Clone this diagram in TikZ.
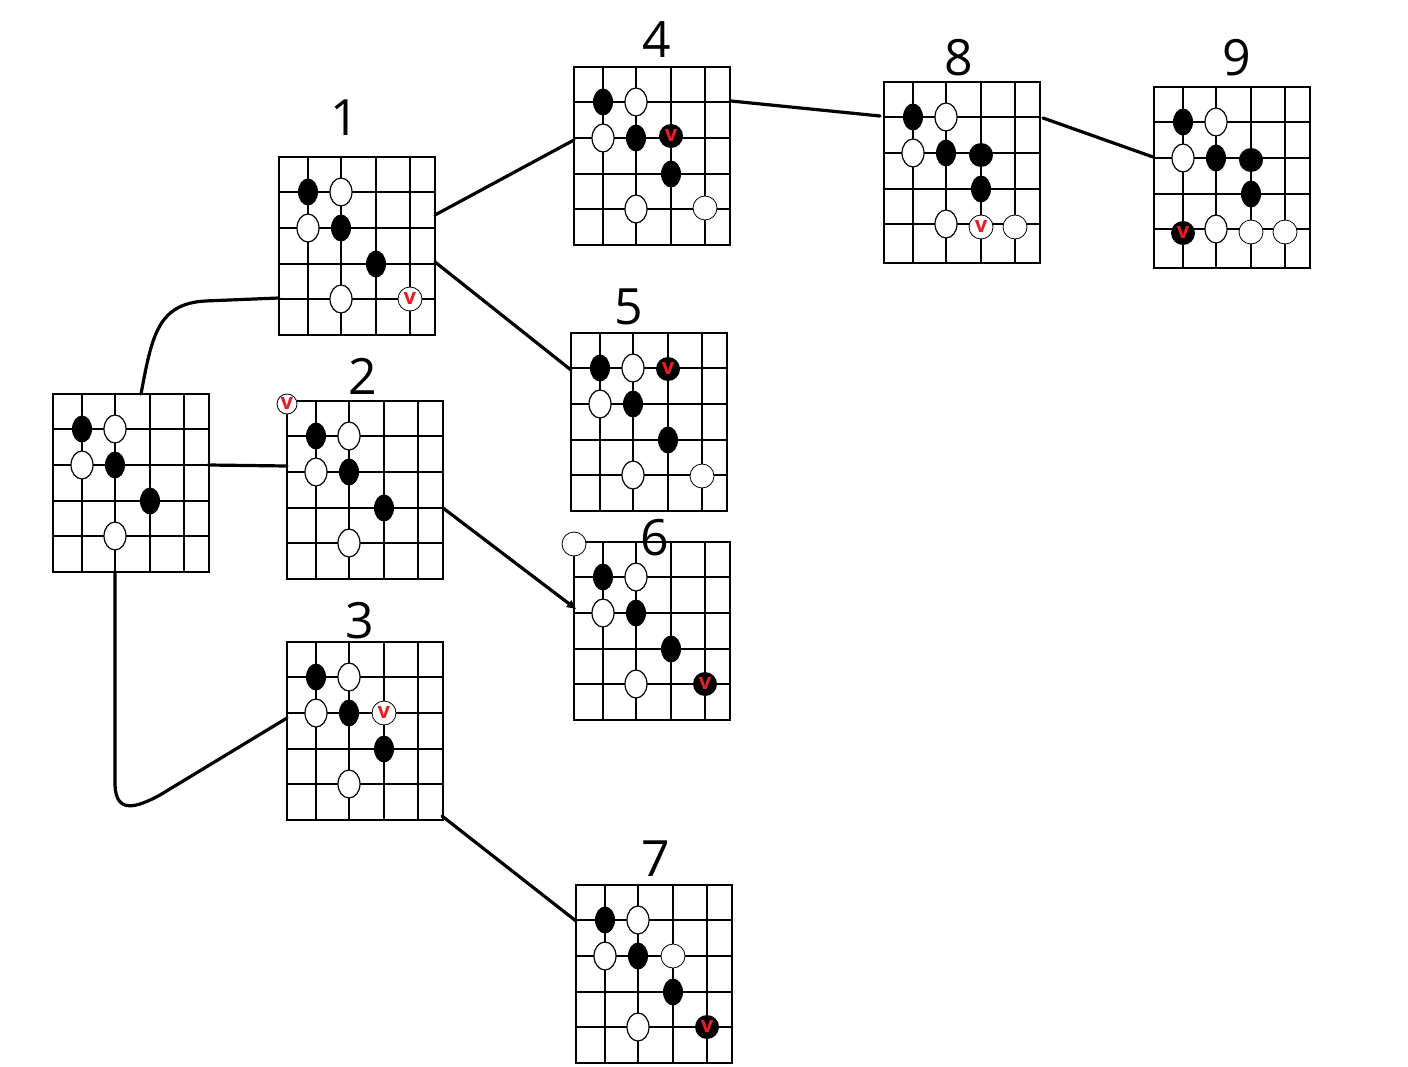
\documentclass[tikz,border=0pt]{standalone}
\usepackage{fontspec}
\setmainfont{Open Sans}
\usetikzlibrary{calc,arrows.meta}
\definecolor{vred}{RGB}{230,30,40}
\tikzset{
  board/.style={draw=black, line width=1.6pt, minimum width=156pt, minimum height=178pt, inner sep=0pt, outer sep=0pt, anchor=north west},
  gl/.style={line width=1.6pt},
  conn/.style={line width=3.2pt, line cap=round},
  lbl/.style={font=\fontsize{50}{60}\selectfont, inner sep=0pt},
  vm/.style={text=vred, font=\bfseries\fontsize{22}{22}\selectfont, inner sep=0pt, yshift=1pt}
}
\newcommand\grid[1]{%
  \foreach \c in {29,62,97,131} \draw[gl] ($(#1.north west)+(\c,0)$) -- ($(#1.south west)+(\c,0)$);
  \foreach \r in {35,107,142} \draw[gl] ($(#1.north west)+(0,\r)$) -- ($(#1.north east)+(0,\r)$);
  \draw[line width=2.8pt] ($(#1.north west)+(0,71)$) -- ($(#1.north east)+(0,71)$);}
\newcommand\Bk[3]{\fill ($(#1.north west)+(#2,#3)$) ellipse [x radius=10pt, y radius=13.5pt];}
\newcommand\Wt[3]{\filldraw[fill=white, line width=1.2pt] ($(#1.north west)+(#2,#3)$) ellipse [x radius=11pt, y radius=14pt];}
\newcommand\Wc[3]{\filldraw[fill=white, line width=0.8pt] ($(#1.north west)+(#2,#3)$) circle [radius=12pt];}
\newcommand\Bc[3]{\fill ($(#1.north west)+(#2,#3)$) circle [radius=12pt];}
\newcommand\Vm[3]{\node[vm] at ($(#1.north west)+(#2,#3)$) {v};}
\newcommand\basepos[1]{\grid{#1}\Bk{#1}{29}{35}\Wt{#1}{62}{35}\Wt{#1}{29}{71}\Bk{#1}{62}{71}\Bk{#1}{97}{107}\Wt{#1}{62}{142}}
\begin{document}
\begin{tikzpicture}[x=1pt,y=-1pt]
\useasboundingbox (0,0) rectangle (1408,1067);
\fill[white] (0,0) rectangle (1408,1067);
% boards
\node[board] (r)  at (53,394) {};
\node[board] (b1) at (279,157) {};
\node[board] (b2) at (287,401) {};
\node[board] (b3) at (287,642) {};
\node[board] (b4) at (574,67) {};
\node[board] (b5) at (571,333) {};
\node[board] (b6) at (574,542) {};
\node[board] (b7) at (576,885) {};
\node[board,minimum height=181pt] (b8) at (884,82) {};
\node[board,minimum height=181pt] (b9) at (1154,87) {};
% connectors
\draw[conn] ($(r.north west)+(88,0)$) .. controls (152,335) and (158,304) .. (205,301) -- ($(b1.north west)+(0,141)$);
\draw[conn] ($(r.north west)+(155,71)$) -- ($(b2.north west)+(0,65)$);
\draw[conn] ($(r.south west)+(62,0)$) -- (115,785) .. controls (116,814) and (136,808) .. (160,795) -- ($(b3.north west)+(0,76)$);
\draw[conn] ($(b1.north west)+(156,58)$) -- ($(b4.north west)+(0,73)$);
\draw[conn] ($(b1.north west)+(156,105)$) -- ($(b5.north west)+(0,37)$);
\draw[conn,-{Triangle[length=9pt,width=8pt]}] ($(b2.north west)+(156,107)$) -- ($(b6.north west)+(2,67)$);
\draw[conn] ($(b3.north west)+(155,174)$) -- ($(b7.north west)+(0,36)$);
\draw[conn] ($(b4.north west)+(157,34)$) -- ($(b8.north west)+(-4,34)$);
\draw[conn] ($(b8.north west)+(159,36)$) -- ($(b9.north west)+(-1,70)$);
% stones
\basepos{r}
\basepos{b1} \Wc{b1}{131}{142}\Vm{b1}{131}{142}
\basepos{b2} \filldraw[fill=white, line width=0.8pt] ($(b2.north west)+(0,3)$) circle [radius=10pt]; \Vm{b2}{0}{3}
\basepos{b3} \Wc{b3}{97}{71}\Vm{b3}{97}{71}
\basepos{b4} \Bc{b4}{97}{69}\Vm{b4}{97}{69}\Wc{b4}{131}{141}
\basepos{b5} \Bc{b5}{97}{36}\Vm{b5}{97}{36}\Wc{b5}{131}{143}
\basepos{b6} \Wc{b6}{0}{2}\Bc{b6}{131}{142}\Vm{b6}{131}{142}
\basepos{b7} \Wc{b7}{97}{71}\Bc{b7}{131}{142}\Vm{b7}{131}{142}
\basepos{b8} \Bc{b8}{97}{73}\Wc{b8}{97}{145}\Vm{b8}{97}{145}\Wc{b8}{131}{145}
\basepos{b9} \Bc{b9}{97}{73}\Bc{b9}{29}{146}\Vm{b9}{29}{146}\Wc{b9}{97}{145}\Wc{b9}{131}{145}
% labels
\node[lbl] (l1) at (345,118) {1};
\node[lbl] (l2) at (363,376) {2};
\node[lbl] (l3) at (360,621) {3};
\node[lbl] (l4) at (657,40) {4};
\node[lbl] (l5) at (629,307) {5};
\node[lbl] (l6) at (655,538) {6};
\node[lbl] (l7) at (656,859) {7};
\node[lbl] (l8) at (959,58) {8};
\node[lbl] (l9) at (1237,58) {9};
\end{tikzpicture}
\end{document}
